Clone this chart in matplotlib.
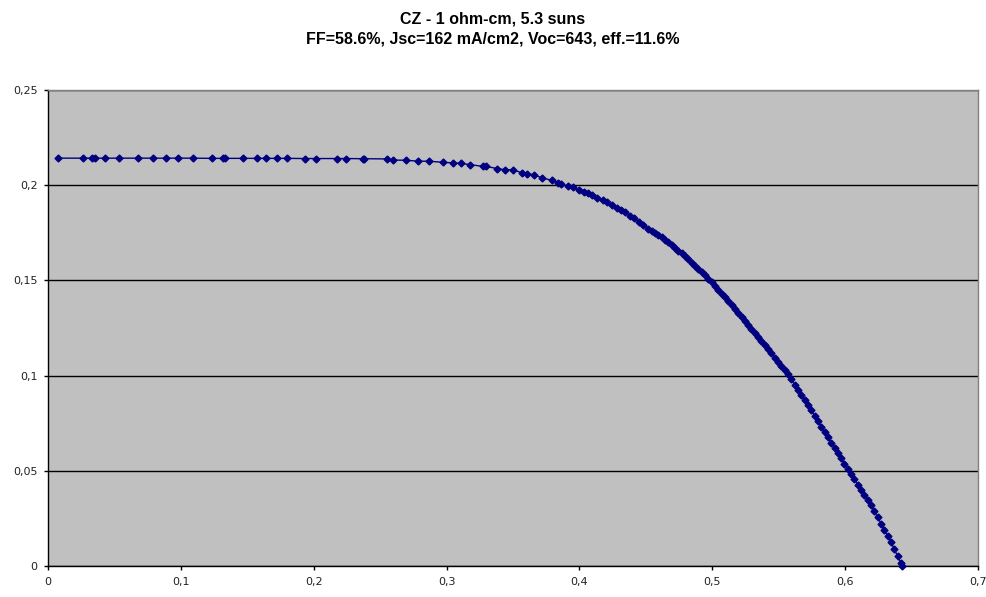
import matplotlib
matplotlib.use("Agg")
import matplotlib.pyplot as plt
from matplotlib.ticker import FuncFormatter

# Voltage (V) and current (A) samples of the I-V sweep
voltage = [
    0.0078, 0.0261, 0.0329, 0.0354, 0.0429, 0.0537, 0.0675, 0.0788, 0.0888, 0.0976,
    0.1093, 0.1232, 0.1315, 0.1332, 0.1470, 0.1571, 0.1641, 0.1721, 0.1797, 0.1934,
    0.2015, 0.2173, 0.2243, 0.2373, 0.2380,
    0.2549, 0.2594, 0.2695, 0.2787, 0.2870, 0.2975, 0.3051, 0.3106, 0.3176, 0.3272,
    0.3297, 0.3382, 0.3442, 0.3498, 0.3565, 0.3603, 0.3658, 0.3720, 0.3791, 0.3841,
    0.3859, 0.3916, 0.3949, 0.3994, 0.4034, 0.4067, 0.4097, 0.4134, 0.4175, 0.4205,
    0.4243, 0.4280, 0.4311, 0.4343, 0.4380, 0.4411, 0.4451, 0.4476, 0.4518,
    0.4545, 0.4570, 0.4595, 0.4620, 0.4645, 0.4670, 0.4695, 0.4720, 0.4745, 0.4770,
    0.4795, 0.4820, 0.4845, 0.4870, 0.4895, 0.4920, 0.4945, 0.4970, 0.4995, 0.5020,
    0.5045, 0.5070, 0.5095, 0.5120, 0.5145, 0.5170, 0.5195, 0.5220, 0.5245, 0.5270,
    0.5295, 0.5320, 0.5345, 0.5370, 0.5395, 0.5420, 0.5445, 0.5470, 0.5495, 0.5520,
    0.5545, 0.5570, 0.5595, 0.5620, 0.5645, 0.5670, 0.5695, 0.5720, 0.5745, 0.5770,
    0.5795, 0.5820, 0.5845, 0.5870, 0.5895, 0.5920, 0.5945, 0.5970, 0.5995, 0.6020,
    0.6045, 0.6070, 0.6095, 0.6120, 0.6145, 0.6170, 0.6195, 0.6220, 0.6245, 0.6270,
    0.6295, 0.6320, 0.6345, 0.6370, 0.6395, 0.6420, 0.6430,
]
current = [
    0.2142, 0.2142, 0.2142, 0.2142, 0.2142, 0.2142, 0.2142, 0.2142, 0.2142, 0.2142,
    0.2142, 0.2141, 0.2141, 0.2141, 0.2141, 0.2141, 0.2141, 0.2141, 0.2141, 0.2140,
    0.2140, 0.2140, 0.2140, 0.2139, 0.2139,
    0.2138, 0.2132, 0.2131, 0.2126, 0.2126, 0.2120, 0.2117, 0.2115, 0.2108, 0.2099,
    0.2099, 0.2087, 0.2081, 0.2081, 0.2066, 0.2060, 0.2055, 0.2038, 0.2026, 0.2013,
    0.2006, 0.1994, 0.1989, 0.1975, 0.1966, 0.1957, 0.1949, 0.1934, 0.1922, 0.1912,
    0.1898, 0.1882, 0.1870, 0.1860, 0.1840, 0.1826, 0.1807, 0.1791, 0.1772,
    0.1760, 0.1749, 0.1738, 0.1726, 0.1713, 0.1701, 0.1687, 0.1672, 0.1657, 0.1642,
    0.1626, 0.1611, 0.1594, 0.1577, 0.1560, 0.1543, 0.1526, 0.1508, 0.1490, 0.1471,
    0.1451, 0.1431, 0.1411, 0.1391, 0.1370, 0.1350, 0.1329, 0.1309, 0.1289, 0.1268,
    0.1247, 0.1225, 0.1203, 0.1181, 0.1160, 0.1138, 0.1117, 0.1095, 0.1074, 0.1052,
    0.1029, 0.1006, 0.0981, 0.0953, 0.0925, 0.0898, 0.0870, 0.0844, 0.0818, 0.0790,
    0.0761, 0.0732, 0.0703, 0.0675, 0.0648, 0.0620, 0.0593, 0.0566, 0.0538, 0.0512,
    0.0485, 0.0456, 0.0427, 0.0400, 0.0373, 0.0347, 0.0319, 0.0287, 0.0255, 0.0223,
    0.0191, 0.0159, 0.0125, 0.0088, 0.0052, 0.0015, 0.0000,
]

x_ticks = [0, 0.1, 0.2, 0.3, 0.4, 0.5, 0.6, 0.7]
y_ticks = [0, 0.05, 0.1, 0.15, 0.2, 0.25]
title_lines = ["CZ - 1 ohm-cm, 5.3 suns",
               "FF=58.6%, Jsc=162 mA/cm2, Voc=643, eff.=11.6%"]

plt.rcParams["font.family"] = ["Liberation Sans", "DejaVu Sans"]

fig = plt.figure(figsize=(9.86, 5.97), dpi=100)
ax = fig.add_axes([48 / 986, 31 / 597, 930 / 986, 476 / 597])
ax.set_facecolor("#C0C0C0")

ax.set_xlim(0, 0.7)
ax.set_ylim(0, 0.25)
ax.set_xticks(x_ticks)
ax.set_yticks(y_ticks)

comma = FuncFormatter(lambda v, _: f"{v:g}".replace(".", ","))
ax.xaxis.set_major_formatter(comma)
ax.yaxis.set_major_formatter(comma)
ax.tick_params(axis="both", direction="out", length=3, width=1,
               labelsize=8, colors="black")
ax.tick_params(axis="x", pad=5)
ax.tick_params(axis="y", pad=4.5)
for lbl in ax.get_xticklabels() + ax.get_yticklabels():
    lbl.set_family(["DejaVu Sans"])
    lbl.set_color("#222222")

ax.yaxis.grid(True, color="black", linewidth=1)
ax.xaxis.grid(False)
ax.set_axisbelow(True)

for side in ("left", "bottom"):
    ax.spines[side].set_color("black")
    ax.spines[side].set_linewidth(1)
for side in ("top", "right"):
    ax.spines[side].set_color("#808080")
    ax.spines[side].set_linewidth(1)

ax.plot(voltage, current, color="#000080", linewidth=1,
        marker="D", markersize=3.5, markerfacecolor="#000080",
        markeredgecolor="#000080", clip_on=False, zorder=3)

fig.text(0.5, 1 - 24 / 597, title_lines[0], ha="center", va="baseline",
         fontsize=11.5, fontweight="bold")
fig.text(0.5, 1 - 43 / 597, title_lines[1], ha="center", va="baseline",
         fontsize=11.5, fontweight="bold")

fig.savefig("out.png", dpi=100)
